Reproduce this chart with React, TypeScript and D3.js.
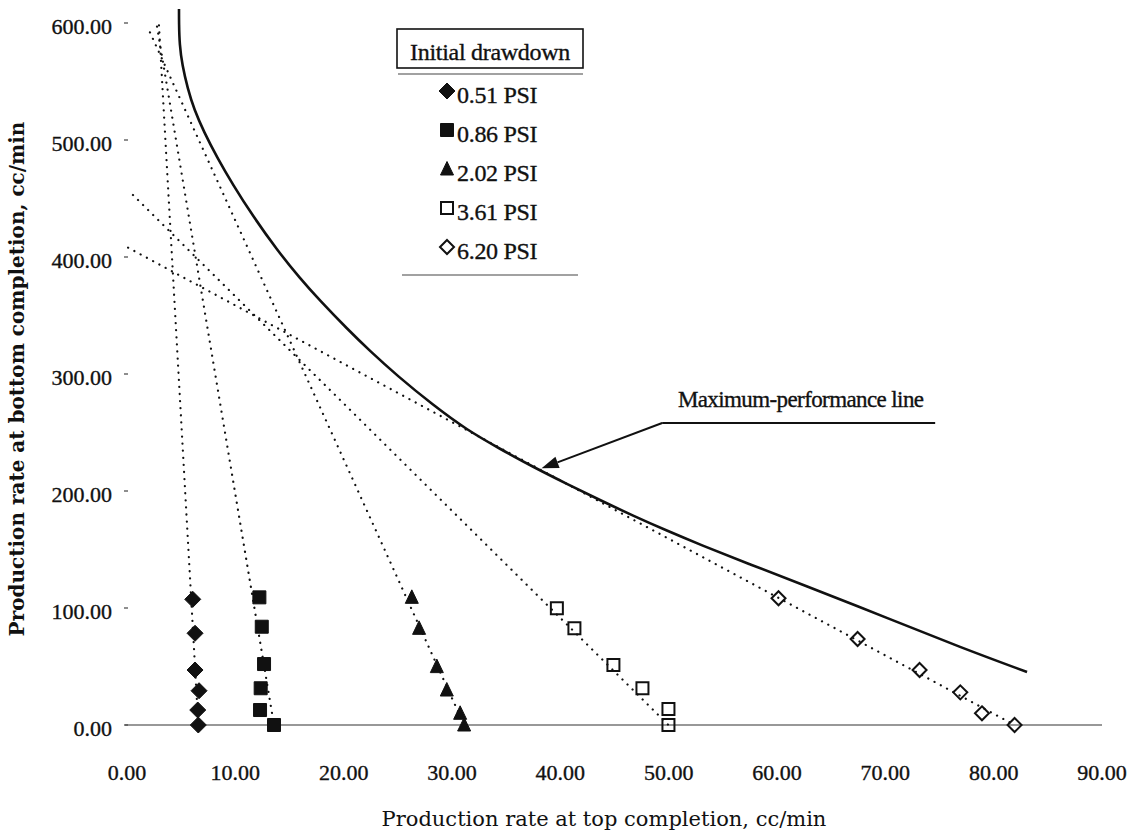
import React from "react";
import * as d3 from "d3";

// Axis ticks
const xTicks = [0, 10, 20, 30, 40, 50, 60, 70, 80, 90];
const yTicks = [0, 100, 200, 300, 400, 500, 600];

// Legend
const legendTitle = "Initial drawdown";
const drawdownLabels = ["0.51 PSI", "0.86 PSI", "2.02 PSI", "3.61 PSI", "6.20 PSI"];
const markerShapes = ["diamondFilled", "squareFilled", "triangleFilled", "squareOpen", "diamondOpen"];

// Measured rates (top completion x, bottom completion y), cc/min
const top051 = [6.07, 6.28, 6.28, 6.65, 6.53, 6.58];
const bottom051 = [107.4, 78.4, 47.0, 29.3, 12.8, 0];
const top086 = [12.22, 12.44, 12.65, 12.34, 12.28, 13.57];
const bottom086 = [109.1, 84.0, 52.1, 31.4, 12.8, 0];
const top202 = [26.29, 26.96, 28.6, 29.52, 30.75, 31.12];
const bottom202 = [109.1, 82.6, 49.9, 29.9, 10.0, 0];
const top361 = [39.68, 41.3, 44.9, 47.58, 49.98, 49.98];
const bottom361 = [99.7, 82.6, 51.3, 31.4, 13.7, 0];
const top620 = [60.14, 67.44, 73.16, 76.92, 78.92, 81.93];
const bottom620 = [108.3, 73.5, 47.0, 27.9, 10.0, 0];

// Start points of each drawdown's dotted performance line
const lineStartTop = [2.95, 2.77, 2.12, 0.55, 0.1];
const lineStartBottom = [598, 597, 592, 453, 408];

// Maximum-performance envelope
const maxTop = [4.8, 4.8, 4.85, 5.1, 5.6, 6.2, 7.1, 8.3, 9.8, 11.6, 13.85, 15.97, 17.82, 20.31, 22.43, 24.92, 28.25, 31.38, 34.43, 37.48, 40.62, 43.66, 46.71, 49.85, 52.89, 57.51, 62.13, 70.71, 76.9, 83.08];
const maxBottom = [612, 600, 581.5, 564, 544, 526, 507, 485.4, 461.4, 435.3, 406, 381.7, 362.6, 338.7, 319.6, 298.7, 273.4, 252.1, 236, 220.6, 206, 192.2, 178.9, 166, 154.2, 137.2, 121, 89.5, 66.5, 45.3];

// Annotation anchor (data units)
const annotationText = "Maximum-performance line";
const arrowTip = [38.27, 219.4];
const leaderStart = [49.4, 258.1];
const leaderEnd = [74.6, 258.1];

const xTitle = "Production rate at top completion, cc/min";
const yTitle = "Production rate at bottom completion, cc/min";

const seriesTop = [top051, top086, top202, top361, top620];
const seriesBottom = [bottom051, bottom086, bottom202, bottom361, bottom620];

const x = d3.scaleLinear().domain([0, 90]).range([127, 1102]);
const y = d3.scaleLinear().domain([0, 600]).range([725, 23]);
const fmt = d3.format(".2f");

const INK = "#111";
const serif = "'Liberation Serif', 'Times New Roman', serif";
const titleFont = "'DejaVu Serif', serif";

function markerPath(shape: string): string {
  if (shape.startsWith("diamond")) {
    const r = shape === "diamondFilled" ? 8 : 7;
    return `M0,${-r}L${r},0L0,${r}L${-r},0Z`;
  }
  if (shape.startsWith("square")) {
    const h = shape === "squareFilled" ? 6.5 : 6;
    return `M${-h},${-h}H${h}V${h}H${-h}Z`;
  }
  return "M0,-7.5L6.5,6L-6.5,6Z";
}

function Marker({ shape, cx, cy }: { shape: string; cx: number; cy: number }) {
  const filled = shape.endsWith("Filled");
  return (
    <path
      d={markerPath(shape)}
      transform={`translate(${cx},${cy})`}
      fill={filled ? INK : "none"}
      stroke={INK}
      strokeWidth={filled ? 1 : 2}
      strokeLinejoin="miter"
    />
  );
}

const textInk = { fill: INK, stroke: INK, strokeWidth: 0.35 };

export default function App() {
  const maxLine = d3
    .line<number>()
    .x((_, i) => x(maxTop[i]))
    .y((_, i) => y(maxBottom[i]))
    .curve(d3.curveBasis);

  const dotted = d3.line<[number, number]>().x((d) => x(d[0])).y((d) => y(d[1]));

  const tip = [x(arrowTip[0]), y(arrowTip[1])];
  const ls = [x(leaderStart[0]), y(leaderStart[1])];
  const le = [x(leaderEnd[0]), y(leaderEnd[1])];
  const ang = Math.atan2(tip[1] - ls[1], tip[0] - ls[0]);
  const headLen = 17;
  const headW = 6;
  const bx = tip[0] - headLen * Math.cos(ang);
  const by = tip[1] - headLen * Math.sin(ang);
  const head = `M${tip[0]},${tip[1]}L${bx + headW * Math.sin(ang)},${by - headW * Math.cos(ang)}L${bx - headW * Math.sin(ang)},${by + headW * Math.cos(ang)}Z`;

  return (
    <svg
      width={1140}
      height={832}
      style={{ position: "absolute", left: 0, top: 0, background: "#fff" }}
    >
      <rect width={1140} height={832} fill="#fff" />

      {/* x axis line */}
      <line x1={x(0) - 2} x2={x(90)} y1={y(0)} y2={y(0)} stroke="#333" strokeWidth={1.2} />

      {/* y ticks and labels */}
      {yTicks.map((t) => (
        <g key={`y${t}`}>
          <line x1={x(0) - 3} x2={x(0) + 1} y1={y(t)} y2={y(t)} stroke="#444" strokeWidth={1.2} />
          <text x={112} y={y(t) + 11} textAnchor="end" fontFamily={serif} fontSize={22} {...textInk}>
            {fmt(t)}
          </text>
        </g>
      ))}

      {/* x tick labels */}
      {xTicks.map((t) => (
        <text key={`x${t}`} x={x(t)} y={780} textAnchor="middle" fontFamily={serif} fontSize={22} {...textInk}>
          {fmt(t)}
        </text>
      ))}

      {/* axis titles */}
      <text x={604} y={826} textAnchor="middle" fontFamily={titleFont} fontSize={21} fill={INK}>
        {xTitle}
      </text>
      <text
        transform="translate(24,379) rotate(-90)"
        textAnchor="middle"
        fontFamily={titleFont}
        fontSize={20}
        fontWeight="bold"
        fill={INK}
      >
        {yTitle}
      </text>

      {/* dotted performance lines: start point to last measured point */}
      {seriesTop.map((tops, i) => {
        const last = tops.length - 1;
        const ends: [number, number][] = [
          [lineStartTop[i], lineStartBottom[i]],
          [tops[last], seriesBottom[i][last]],
        ];
        return (
          <path
            key={`dl${i}`}
            d={dotted(ends) || ""}
            fill="none"
            stroke={INK}
            strokeWidth={2.2}
            strokeLinecap="round"
            strokeDasharray="0.1 7"
          />
        );
      })}

      {/* maximum-performance line */}
      <path d={maxLine(maxTop) || ""} fill="none" stroke={INK} strokeWidth={2.6} />

      {/* markers */}
      {seriesTop.map((tops, i) =>
        tops.map((t, j) => (
          <Marker key={`m${i}-${j}`} shape={markerShapes[i]} cx={x(t)} cy={y(seriesBottom[i][j])} />
        ))
      )}

      {/* annotation */}
      <line x1={ls[0]} y1={ls[1]} x2={le[0]} y2={le[1]} stroke={INK} strokeWidth={2} />
      <line x1={ls[0]} y1={ls[1]} x2={bx} y2={by} stroke={INK} strokeWidth={2} />
      <path d={head} fill={INK} />
      <text x={(ls[0] + le[0]) / 2 + 2} y={ls[1] - 16} textAnchor="middle" fontFamily={serif} fontSize={23} letterSpacing={-0.6} {...textInk}>
        {annotationText}
      </text>

      {/* legend */}
      <rect x={397} y={29} width={186} height={39} fill="#fff" stroke={INK} strokeWidth={1.6} />
      <text x={490} y={60} textAnchor="middle" fontFamily={serif} fontSize={24} letterSpacing={-0.3} {...textInk}>
        {legendTitle}
      </text>
      <line x1={398} x2={583} y1={74} y2={74} stroke="#444" strokeWidth={1.2} />
      {drawdownLabels.map((lab, i) => (
        <g key={`lg${i}`}>
          <Marker shape={markerShapes[i]} cx={447} cy={91 + i * 39} />
          <text x={457} y={103 + i * 39} fontFamily={serif} fontSize={24} letterSpacing={-0.3} {...textInk}>
            {lab}
          </text>
        </g>
      ))}
      <line x1={402} x2={578} y1={275} y2={275} stroke="#444" strokeWidth={1.2} />
    </svg>
  );
}
